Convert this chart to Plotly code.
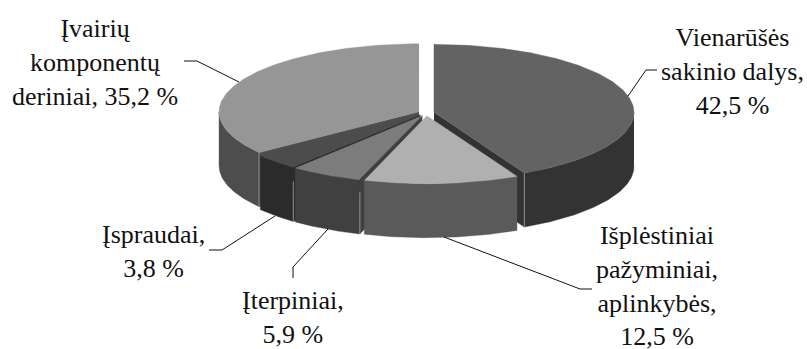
import numpy as np
import plotly.graph_objects as go

# Shares of the sentence components, clockwise from twelve o'clock
labels = ["Vienarūšės<br>sakinio dalys,<br>42,5 %",
          "Išplėstiniai<br>pažyminiai,<br>aplinkybės,<br>12,5 %",
          "Įterpiniai,<br>5,9 %",
          "Įspraudai,<br>3,8 %",
          "Įvairių<br>komponentų<br>deriniai, 35,2 %"]
values = [42.5, 12.5, 5.9, 3.8, 35.2]
top_colors = ["#636363", "#b0b0b0", "#7c7c7c", "#4c4c4c", "#969696"]
side_colors = ["#333333", "#5a5a5a", "#404040", "#2b2b2b", "#4d4d4d"]

# Label block centres and leader polylines, in page pixels
label_pos = [(732, 71), (657, 286), (293, 317), (153, 251), (95, 62)]
leaders = [
    [(628, 96), (646, 70), (657, 70)],
    [(444, 237), (580, 289), (592, 289)],
    [(328, 229), (293, 267), (293, 278)],
    [(275, 216), (222, 250), (209, 250)],
    [(239, 82), (197, 61), (184, 61)],
]

# Projection of the extruded pie
CX, CY = 426.2, 113.0
RX, RY = 200.0, 68.0
EXPLODE = 8.0
DEPTH = 54.0
TEXT_FONT = "Liberation Serif"
GLEAM_COLOR = "#8c8c8c"
# How far below the top face the bright corner line of each slice begins
gleam_offset = [0, 0, 12, 14, 0]

fracs = np.array(values) / sum(values)
edges = np.concatenate([[0.0], np.cumsum(fracs)]) * 2 * np.pi


def project(theta, r=1.0, ox=0.0, oy=0.0):
    return ox + RX * r * np.sin(theta), oy - RY * r * np.cos(theta)


def add_poly(fig, xs, ys, color, name):
    fig.add_trace(go.Scatter(
        x=list(xs), y=list(ys), mode="lines", fill="toself", fillcolor=color,
        line=dict(color=color, width=0.4), hoverinfo="skip", showlegend=False, name=name,
    ))


fig = go.Figure()

# Painter's order: rear slices first, the front slice last
for i in [4, 0, 3, 2, 1]:
    a, b = edges[i], edges[i + 1]
    mid = (a + b) / 2
    ox = CX + EXPLODE * np.sin(mid)
    oy = CY - EXPLODE * 0.34 * np.cos(mid)
    name = labels[i].split("<br>")[0]

    # Cut faces that turn toward the viewer, with a bright line on the outer corner
    corners = []
    for theta, visible in ((a, np.sin(a) < 0), (b, np.sin(b) > 0)):
        if visible:
            rx, ry = project(theta, 1.0, ox, oy)
            add_poly(fig, [ox, rx, rx, ox], [oy, ry, ry + DEPTH, oy + DEPTH],
                     side_colors[i], name + " cut")
            corners.append((rx, ry))

    # Outer wall, only along the near half of the ellipse
    lo, hi = max(a, np.pi / 2), min(b, 3 * np.pi / 2)
    if hi > lo:
        t = np.linspace(lo, hi, 80)
        wx, wy = project(t, 1.0, ox, oy)
        add_poly(fig, np.r_[wx, wx[::-1]], np.r_[wy, wy[::-1] + DEPTH],
                 side_colors[i], name + " wall")

    for rx, ry in corners:
        fig.add_trace(go.Scatter(
            x=[rx, rx], y=[ry + gleam_offset[i], ry + DEPTH], mode="lines",
            line=dict(color=GLEAM_COLOR, width=1), hoverinfo="skip", showlegend=False,
        ))

    # Top face
    t = np.linspace(a, b, 160)
    tx, ty = project(t, 1.0, ox, oy)
    add_poly(fig, np.r_[ox, tx], np.r_[oy, ty], top_colors[i], name + " top")

for pts in leaders:
    fig.add_trace(go.Scatter(
        x=[p[0] for p in pts], y=[p[1] for p in pts], mode="lines",
        line=dict(color="#111111", width=1), hoverinfo="skip", showlegend=False,
    ))

for text, (x, y) in zip(labels, label_pos):
    fig.add_annotation(x=x, y=y, text=text, showarrow=False, xanchor="center", yanchor="middle",
                       align="center", font=dict(family=TEXT_FONT, size=26, color="#111111"))

fig.update_layout(
    width=807, height=349, margin=dict(l=0, r=0, t=0, b=0),
    paper_bgcolor="white", plot_bgcolor="white",
    xaxis=dict(range=[0, 807], visible=False, fixedrange=True),
    yaxis=dict(range=[349, 0], visible=False, fixedrange=True),
)
fig.write_html("out.html", config={"displayModeBar": False})
